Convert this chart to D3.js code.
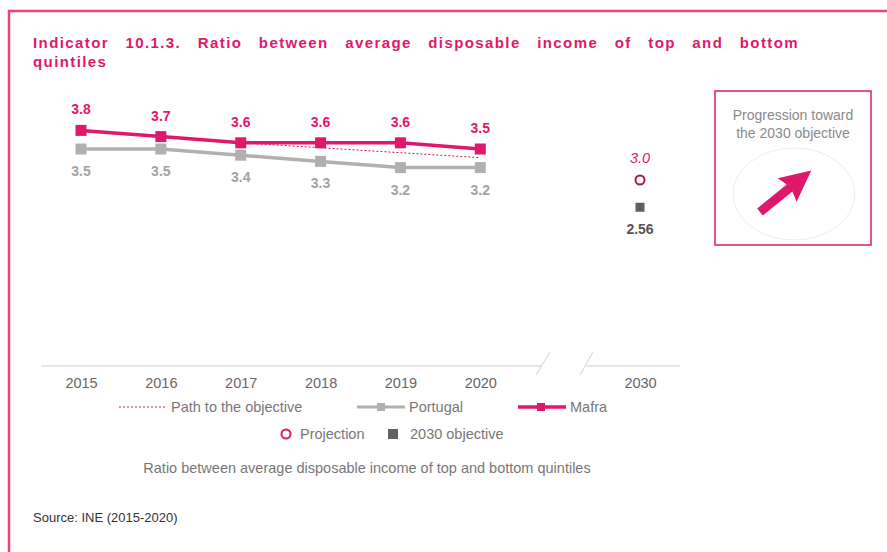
<!DOCTYPE html>
<html>
<head>
<meta charset="utf-8">
<script src="https://cdn.jsdelivr.net/npm/d3@7"></script>
<style>
  body { margin: 0; background: #fff; }
  svg { display: block; font-family: "Liberation Sans", Arial, sans-serif; }
</style>
</head>
<body>
<svg id="chart" width="887" height="552"></svg>
<script>
// data
var years = [2015, 2016, 2017, 2018, 2019, 2020];
var mafra = [3.8, 3.7, 3.6, 3.6, 3.6, 3.5];
var portugal = [3.5, 3.5, 3.4, 3.3, 3.2, 3.2];
var pathYears = [2017, 2018, 2019, 2020];
var pathValues = [3.6, 3.52, 3.44, 3.36];
var targetYear = 2030;
var projection = 3.0;
var objective = 2.56;
var tickLabels = ["2015", "2016", "2017", "2018", "2019", "2020", "2030"];

var pink = "#e0186b", grey = "#b1afaf", border = "#f0407f";

var svg = d3.select("#chart");

// frame
svg.append("path")
  .attr("d", "M9,552 V11 H887")
  .attr("fill", "none")
  .attr("stroke", border)
  .attr("stroke-width", 2.5);

// title (first line justified by widening the word gaps)
var t1 = svg.append("text")
  .attr("x", 33).attr("y", 48)
  .attr("fill", pink).attr("font-weight", "bold").attr("font-size", 15)
  .attr("letter-spacing", 1.4)
  .text("Indicator 10.1.3. Ratio between average disposable income of top and bottom");
var natural = t1.node().getComputedTextLength();
t1.attr("word-spacing", Math.max(0, (766 - natural) / 10));
svg.append("text")
  .attr("x", 33).attr("y", 67)
  .attr("fill", pink).attr("font-weight", "bold").attr("font-size", 15)
  .attr("letter-spacing", 1.4)
  .text("quintiles");

// scales - 2030 sits two slots after 2020 because of the axis break
var slot = d3.scalePoint()
  .domain(tickLabels.slice(0, 6).concat(["gap", "2030"]))
  .range([81, 640]);
var x = function(yr) { return slot(String(yr)); };
var y = d3.scaleLinear().domain([0, 4]).range([366, 118]);

// axis with break
var g = svg.append("g");
g.append("line").attr("x1", 41).attr("x2", 542).attr("y1", 366).attr("y2", 366)
  .attr("stroke", "#dcdcdc").attr("stroke-width", 1.5);
g.append("line").attr("x1", 587).attr("x2", 680).attr("y1", 366).attr("y2", 366)
  .attr("stroke", "#dcdcdc").attr("stroke-width", 1.5);
[[536, 550], [580, 593]].forEach(function(s) {
  g.append("line").attr("x1", s[0]).attr("y1", 375).attr("x2", s[1]).attr("y2", 352)
    .attr("stroke", "#dcdcdc").attr("stroke-width", 1.2);
});
var xAxis = d3.axisBottom(slot).tickSize(0).tickPadding(10)
  .tickValues(tickLabels);
var ax = svg.append("g").attr("transform", "translate(0,366)").call(xAxis);
ax.select(".domain").remove();
ax.selectAll("text").attr("fill", "#666").attr("font-size", 14.5)
  .attr("font-family", "Liberation Sans, Arial, sans-serif").attr("dy", "0.8em");

var line = d3.line().x(function(d) { return x(d[0]); }).y(function(d) { return y(d[1]); });

// path to the objective
svg.append("path")
  .datum(d3.zip(pathYears, pathValues))
  .attr("d", line)
  .attr("fill", "none").attr("stroke", "#c2185b").attr("stroke-width", 1)
  .attr("stroke-dasharray", "2,2");

// Portugal
svg.append("path")
  .datum(d3.zip(years, portugal))
  .attr("d", line)
  .attr("fill", "none").attr("stroke", grey).attr("stroke-width", 3.5);
svg.selectAll(".pt").data(d3.zip(years, portugal)).enter().append("rect")
  .attr("x", function(d) { return x(d[0]) - 5.5; })
  .attr("y", function(d) { return y(d[1]) - 5.5; })
  .attr("width", 11).attr("height", 11).attr("fill", grey);
svg.selectAll(".ptl").data(d3.zip(years, portugal)).enter().append("text")
  .attr("x", function(d) { return x(d[0]); })
  .attr("y", function(d) { return y(d[1]) + 27; })
  .attr("text-anchor", "middle").attr("font-size", 14).attr("font-weight", "bold")
  .attr("fill", "#a3a3a3")
  .text(function(d) { return d[1].toFixed(1); });

// Mafra
svg.append("path")
  .datum(d3.zip(years, mafra))
  .attr("d", line)
  .attr("fill", "none").attr("stroke", pink).attr("stroke-width", 3.5);
svg.selectAll(".mf").data(d3.zip(years, mafra)).enter().append("rect")
  .attr("x", function(d) { return x(d[0]) - 5.5; })
  .attr("y", function(d) { return y(d[1]) - 5.5; })
  .attr("width", 11).attr("height", 11).attr("fill", pink);
svg.selectAll(".mfl").data(d3.zip(years, mafra)).enter().append("text")
  .attr("x", function(d) { return x(d[0]); })
  .attr("y", function(d) { return y(d[1]) - 16; })
  .attr("text-anchor", "middle").attr("font-size", 14).attr("font-weight", "bold")
  .attr("fill", pink)
  .text(function(d) { return d[1].toFixed(1); });

// 2030 projection and objective
svg.append("circle")
  .attr("cx", x(targetYear)).attr("cy", y(projection)).attr("r", 4.5)
  .attr("fill", "none").attr("stroke", "#b0173f").attr("stroke-width", 2);
svg.append("text")
  .attr("x", x(targetYear)).attr("y", y(projection) - 17)
  .attr("text-anchor", "middle").attr("font-size", 14.5).attr("font-style", "italic")
  .attr("fill", pink).text(projection.toFixed(1));
svg.append("rect")
  .attr("x", x(targetYear) - 4.5).attr("y", y(objective) - 4.5)
  .attr("width", 9).attr("height", 9).attr("fill", "#616161");
svg.append("text")
  .attr("x", x(targetYear)).attr("y", y(objective) + 27)
  .attr("text-anchor", "middle").attr("font-size", 14).attr("font-weight", "bold")
  .attr("fill", "#555").text(objective.toFixed(2));

// legend
var lg = svg.append("g").attr("font-size", 14.5).attr("fill", "#777");
lg.append("line").attr("x1", 119).attr("x2", 165).attr("y1", 407).attr("y2", 407)
  .attr("stroke", "#c2185b").attr("stroke-width", 1).attr("stroke-dasharray", "2,2");
lg.append("text").attr("x", 171).attr("y", 412).text("Path to the objective");
lg.append("line").attr("x1", 357).attr("x2", 405).attr("y1", 407).attr("y2", 407)
  .attr("stroke", grey).attr("stroke-width", 3);
lg.append("rect").attr("x", 377).attr("y", 403).attr("width", 8).attr("height", 8).attr("fill", grey);
lg.append("text").attr("x", 409).attr("y", 412).text("Portugal");
lg.append("line").attr("x1", 518).attr("x2", 566).attr("y1", 407).attr("y2", 407)
  .attr("stroke", pink).attr("stroke-width", 3.5);
lg.append("rect").attr("x", 537).attr("y", 403).attr("width", 8).attr("height", 8).attr("fill", pink);
lg.append("text").attr("x", 570).attr("y", 412).text("Mafra");
lg.append("circle").attr("cx", 286).attr("cy", 434).attr("r", 4.5)
  .attr("fill", "none").attr("stroke", pink).attr("stroke-width", 2);
lg.append("text").attr("x", 300).attr("y", 439).text("Projection");
lg.append("rect").attr("x", 388).attr("y", 429).attr("width", 10).attr("height", 10).attr("fill", "#616161");
lg.append("text").attr("x", 410).attr("y", 439).text("2030 objective");

// caption and source
svg.append("text").attr("x", 367).attr("y", 473).attr("text-anchor", "middle")
  .attr("font-size", 14.5).attr("fill", "#777")
  .text("Ratio between average disposable income of top and bottom quintiles");
svg.append("text").attr("x", 33).attr("y", 522)
  .attr("font-size", 13).attr("fill", "#333")
  .text("Source: INE (2015-2020)");

// progression box
var box = svg.append("g");
box.append("rect").attr("x", 715).attr("y", 91).attr("width", 156).attr("height", 154)
  .attr("fill", "#fff").attr("stroke", pink).attr("stroke-width", 1.5);
box.append("text").attr("x", 793).attr("y", 120).attr("text-anchor", "middle")
  .attr("font-size", 14).attr("fill", "#8a8a8a").text("Progression toward");
box.append("text").attr("x", 793).attr("y", 138).attr("text-anchor", "middle")
  .attr("font-size", 14).attr("fill", "#8a8a8a").text("the 2030 objective");
box.append("ellipse").attr("cx", 794).attr("cy", 194).attr("rx", 61).attr("ry", 46)
  .attr("fill", "none").attr("stroke", "#ececec").attr("stroke-width", 1);
// arrow pointing up-right
box.append("path")
  .attr("d", "M0,-4.5 L38,-4.5 L35,-15 L66,0 L35,15 L38,4.5 L0,4.5 Z")
  .attr("transform", "translate(760,212) rotate(-39)")
  .attr("fill", pink);
</script>
</body>
</html>
